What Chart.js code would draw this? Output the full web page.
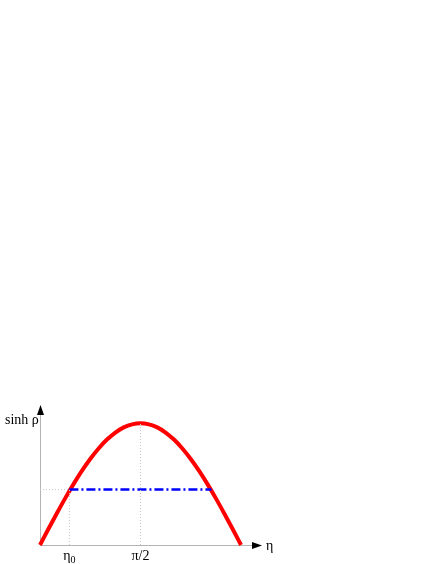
<!DOCTYPE html>
<html><head><meta charset="utf-8">
<script src="https://cdn.jsdelivr.net/npm/chart.js@4/dist/chart.umd.min.js"></script>
<style>html,body{margin:0;padding:0;background:#fff}#wrap{width:436px;height:564px}</style>
</head><body><div id="wrap"><canvas id="c" width="436" height="564"></canvas></div>
<script>
// Readings from the picture (x: eta, y: sinh rho, peak normalised to 1)
const eta      = [0, 0.131, 0.262, 0.393, 0.524, 0.654, 0.785, 0.916, 1.047, 1.178, 1.309, 1.440, 1.571, 1.702, 1.833, 1.963, 2.094, 2.225, 2.356, 2.487, 2.618, 2.749, 2.880, 3.011, 3.142];
const sinhRho  = [0, 0.131, 0.259, 0.383, 0.500, 0.609, 0.707, 0.793, 0.866, 0.924, 0.966, 0.991, 1.000, 0.991, 0.966, 0.924, 0.866, 0.793, 0.707, 0.609, 0.500, 0.383, 0.259, 0.131, 0];
const eta0 = 0.46;
const levelY = 0.455;
const levelEnd = 2.68;
const peakEta = 1.5708;
const tickValues = [eta0, peakEta];
const tickLabels = [["η","0"], ["π/2",""]];
const xMax = 3.47, yMax = 1.15;

const curve = eta.map((x,i)=>({x, y: sinhRho[i]}));
const grayDot = {borderColor:'#c8c8c8', borderWidth:1, borderDash:[1,2], pointRadius:0, fill:false};

const axesPlugin = {
  id:'axes',
  beforeDatasetsDraw(chart){
    const {ctx, scales:{x, y}} = chart;
    const x0 = x.getPixelForValue(0), y0 = y.getPixelForValue(0);
    const xe = x.getPixelForValue(xMax), ye = y.getPixelForValue(yMax);
    ctx.save();
    ctx.strokeStyle = '#b4b4b4'; ctx.lineWidth = 1;
    ctx.beginPath();
    ctx.moveTo(x0+0.5, y0); ctx.lineTo(x0+0.5, ye+6);
    ctx.moveTo(x0, y0+0.5); ctx.lineTo(xe-6, y0+0.5);
    ctx.stroke();
    ctx.fillStyle = '#000';
    ctx.beginPath(); ctx.moveTo(x0+0.5, ye); ctx.lineTo(x0-3, ye+10); ctx.lineTo(x0+4, ye+10); ctx.closePath(); ctx.fill();
    ctx.beginPath(); ctx.moveTo(xe, y0+0.5); ctx.lineTo(xe-10, y0-3); ctx.lineTo(xe-10, y0+4); ctx.closePath(); ctx.fill();
    ctx.font = '14px "Liberation Serif", serif';
    ctx.textBaseline = 'alphabetic';
    ctx.textAlign = 'left';
    ctx.fillText('sinh ρ', 5, ye+19);
    ctx.fillText('η', xe+4, y0+5);
    tickValues.forEach((v,i)=>{
      const px = x.getPixelForValue(v);
      const [main, sub] = tickLabels[i];
      ctx.font = '14px "Liberation Serif", serif';
      const w1 = ctx.measureText(main).width;
      ctx.font = '10px "Liberation Serif", serif';
      const w2 = sub ? ctx.measureText(sub).width : 0;
      let start = px - (w1 + w2)/2;
      ctx.font = '14px "Liberation Serif", serif';
      ctx.fillText(main, start, y0+15);
      if (sub){ ctx.font = '10px "Liberation Serif", serif'; ctx.fillText(sub, start+w1, y0+18); }
    });
    ctx.restore();
  }
};

new Chart(document.getElementById('c'), {
  type:'line',
  data:{ datasets:[
    Object.assign({data:[{x:peakEta,y:0},{x:peakEta,y:1}]}, grayDot),
    Object.assign({data:[{x:eta0,y:0},{x:eta0,y:levelY}]}, grayDot),
    Object.assign({data:[{x:0,y:levelY},{x:eta0,y:levelY}]}, grayDot),
    {data:[{x:eta0,y:levelY},{x:levelEnd,y:levelY}], borderColor:'#0000ff', borderWidth:2.5, borderDash:[9,3,2,3], pointRadius:0, fill:false},
    {data:curve, borderColor:'#ff0000', borderWidth:4, pointRadius:0, fill:false, cubicInterpolationMode:'monotone', borderCapStyle:'butt'}
  ]},
  options:{
    responsive:false, animation:false,
    layout:{padding:{left:40, right:174, top:405, bottom:19}},
    plugins:{legend:{display:false}, tooltip:{enabled:false}},
    scales:{
      x:{type:'linear', min:0, max:xMax, display:false},
      y:{type:'linear', min:0, max:yMax, display:false}
    },
    elements:{line:{borderJoinStyle:'round'}},
    clip:false
  },
  plugins:[axesPlugin]
});
</script></body></html>
